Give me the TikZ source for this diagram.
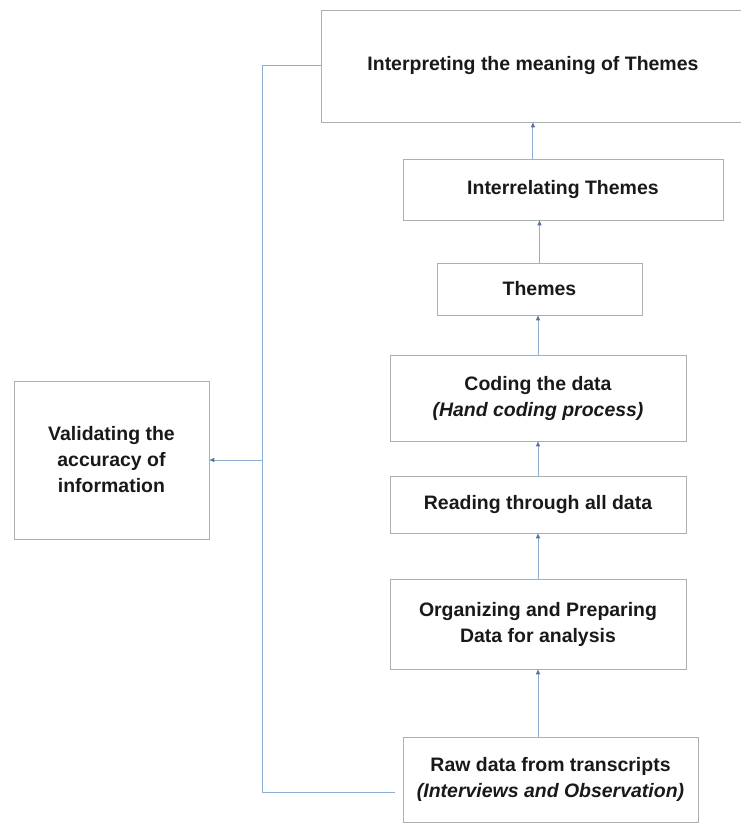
\documentclass[tikz,border=0pt]{standalone}
\usepackage{fontspec}
\setmainfont{Liberation Sans}
\usepackage{xcolor}
\usetikzlibrary{arrows.meta, positioning}

\definecolor{boxline}{RGB}{170,176,170}
\definecolor{linkline}{RGB}{140,175,210}
\definecolor{tipblue}{RGB}{85,115,155}

\begin{document}
\begin{tikzpicture}[
    node distance=30pt,
    block/.style={
        rectangle,
        draw=boxline,
        line width=0.6pt,
        align=center,
        inner sep=2pt,
        outer sep=0pt,
        text=black!90,
        font=\fontsize{14.6}{19.5}\selectfont\bfseries
    },
    link/.style={draw=linkline, line width=0.75pt},
    arrow/.style={link, -{Latex[length=4pt, width=3.5pt, color=tipblue]}}
]

\useasboundingbox (0,0) rectangle (555.75pt,-617.25pt);

\node[block, minimum width=221.25pt, minimum height=63.75pt] (raw) at (412.9pt,-584.6pt) {Raw data from transcripts\\\textit{(Interviews and Observation)}};
\node[block, minimum width=222pt, minimum height=67.5pt, above=51pt of raw, xshift=-9.4pt] (organize) {Organizing and Preparing\\Data for analysis};
\node[block, minimum width=222pt, minimum height=42.75pt, above=34.5pt of organize] (reading) {Reading through all data};
\node[block, minimum width=222pt, minimum height=64.5pt, above=26.25pt of reading] (coding) {Coding the data\\\textit{(Hand coding process)}};
\node[block, minimum width=153.75pt, minimum height=39pt, above=30pt of coding, xshift=1.1pt] (themes) {Themes};
\node[block, minimum width=240pt, minimum height=45.75pt, above=32.25pt of themes, xshift=17.6pt] (interrelate) {Interrelating Themes};
\node[block, minimum width=318pt, minimum height=84pt, above=27.75pt of interrelate, xshift=-22.5pt] (interpret) {Interpreting the meaning of Themes};

\node[block, minimum width=146.25pt, minimum height=118.5pt] (validate) at (83.6pt,-345pt) {Validating the\\accuracy of\\information};

\coordinate (spine) at (196.5pt,0);

\draw[arrow] (organize.south |- raw.north) -- (organize.south);
\draw[arrow] (organize) -- (reading);
\draw[arrow] (reading) -- (coding);
\draw[arrow] (coding.north) -- (coding.north |- themes.south);
\draw[arrow] (themes.north) -- (themes.north |- interrelate.south);
\draw[arrow] (interpret.south |- interrelate.north) -- (interpret.south);

% feedback line on the left
\draw[link, shorten <=6pt] ([yshift=-10pt]raw.west) -| (spine |- interpret.west) -- (interpret.west);
\draw[arrow] (spine |- validate.east) -- (validate.east);

\end{tikzpicture}
\end{document}
